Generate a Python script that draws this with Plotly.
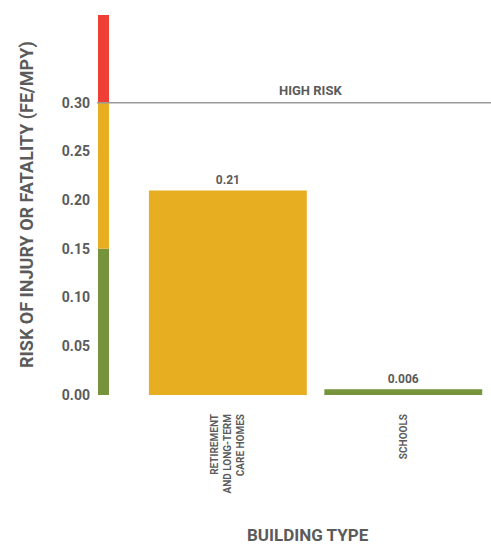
import plotly.graph_objects as go

categories = ["RETIREMENT<br>AND LONG-TERM<br>CARE HOMES", "SCHOOLS"]
risk_values = [0.21, 0.006]
bar_colors = ["#E8AE22", "#76943B"]
y_ticks = [0.0, 0.05, 0.10, 0.15, 0.20, 0.25, 0.30]
y_tick_labels = ["0.00", "0.05", "0.10", "0.15", "0.20", "0.25", "0.30"]
# risk bands: (lower, upper, colour)
band_lower = [0.0, 0.15, 0.30]
band_upper = [0.15, 0.30, 0.39]
band_colors = ["#76943B", "#E8AE22", "#EE4035"]
high_risk_threshold = 0.30

FONT = "Roboto, sans-serif"
GREY = "#5b5b5b"

fig = go.Figure()
fig.add_trace(go.Bar(
    x=list(range(len(categories))),
    y=risk_values,
    width=0.9,
    marker=dict(color=bar_colors, line=dict(width=0)),
    text=[str(v) for v in risk_values],
    textposition="outside",
    textfont=dict(family=FONT, size=12, color=GREY, weight="bold"),
    cliponaxis=False,
    hoverinfo="skip",
))

shapes = []
for lo, hi, c in zip(band_lower, band_upper, band_colors):
    shapes.append(dict(type="rect", xref="paper", yref="y",
                       x0=1/394, x1=12/394, y0=lo, y1=hi,
                       fillcolor=c, line=dict(width=0), layer="above"))
shapes.append(dict(type="line", xref="paper", yref="y", x0=0, x1=1,
                   y0=high_risk_threshold, y1=high_risk_threshold,
                   line=dict(color="#999999", width=1.5), layer="above"))

annotations = [
    dict(text="HIGH RISK", xref="paper", yref="y", x=(310-97)/394, y=high_risk_threshold,
         xanchor="center", yanchor="bottom", yshift=3, showarrow=False,
         font=dict(family=FONT, size=13, color=GREY, weight="bold")),
    dict(text="RISK OF INJURY OR FATALITY (FE/MPY)", xref="paper", yref="paper",
         x=0, y=0.5, xshift=-70, xanchor="center", yanchor="middle",
         textangle=-90, showarrow=False,
         font=dict(family=FONT, size=18, color=GREY, weight="bold")),
    dict(text="BUILDING TYPE", xref="paper", yref="paper",
         x=(308-97)/394, y=0, yshift=-140, xanchor="center", yanchor="middle",
         showarrow=False, font=dict(family=FONT, size=17, color=GREY, weight="bold")),
]

fig.update_layout(
    width=491, height=546,
    margin=dict(l=97, r=0, t=15, b=151),
    plot_bgcolor="white", paper_bgcolor="white",
    showlegend=False,
    shapes=shapes,
    annotations=annotations,
    xaxis=dict(range=[-0.746, 1.5], tickvals=list(range(len(categories))),
               ticktext=categories, tickangle=-90, showgrid=False, zeroline=False,
               showline=False, ticks="", ticklabelstandoff=16,
               tickfont=dict(family=FONT, size=10, color=GREY, weight="bold")),
    yaxis=dict(range=[0, 0.39], tickvals=y_ticks, ticktext=y_tick_labels,
               showgrid=False, zeroline=False, showline=False, ticks="",
               ticklabelstandoff=6,
               tickfont=dict(family=FONT, size=14, color=GREY, weight="bold")),
)

fig.write_html("out.html")
